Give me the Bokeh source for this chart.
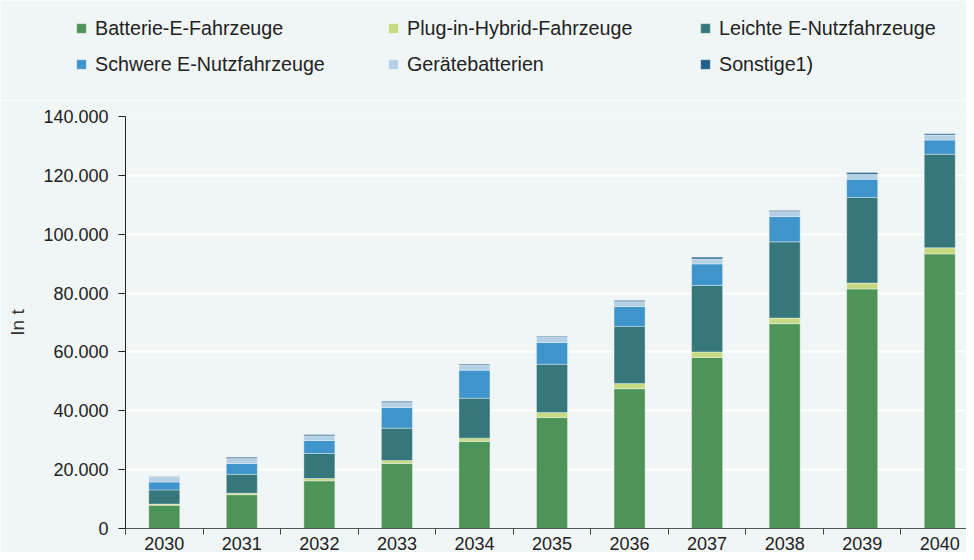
from bokeh.plotting import figure
from bokeh.layouts import column
from bokeh.models import Range1d, FixedTicker, Legend, LegendItem
from bokeh.embed import file_html
from bokeh.resources import INLINE

years = [2030, 2031, 2032, 2033, 2034, 2035, 2036, 2037, 2038, 2039, 2040]
batterie = [7900, 11500, 16200, 22100, 29600, 37700, 47500, 58100, 69600, 81400, 93300]
plugin = [400, 500, 800, 1000, 1100, 1700, 1800, 1900, 1900, 2000, 2100]
leichte = [4800, 6400, 8500, 11000, 13600, 16400, 19400, 22600, 25900, 29100, 31800]
schwere = [2700, 3700, 4400, 7000, 9500, 7400, 6700, 7300, 8600, 6200, 4800]
geraete = [1600, 1700, 1600, 1700, 1800, 1800, 1700, 1700, 1700, 1700, 1700]
sonstige = [200, 400, 400, 400, 300, 300, 400, 600, 400, 600, 400]

series_names = ["Batterie-E-Fahrzeuge", "Plug-in-Hybrid-Fahrzeuge", "Leichte E-Nutzfahrzeuge",
                "Schwere E-Nutzfahrzeuge", "Gerätebatterien", "Sonstige1)"]
colors = ["#4E9459", "#C6DA84", "#35777B", "#3F95CB", "#B4D0E6", "#1E5F8C"]

y_ticks = [0, 20000, 40000, 60000, 80000, 100000, 120000, 140000]
y_tick_labels = ["0", "20.000", "40.000", "60.000", "80.000", "100.000", "120.000", "140.000"]

FONT = "Liberation Sans"
BG = "#F0F5F5"
W = 966
LEG_H = 100
MAIN_H = 452

keys = ["b", "p", "l", "s", "g", "o"]
data = dict(x=years, b=batterie, p=plugin, l=leichte, s=schwere, g=geraete, o=sonstige)

# ---- main chart ----
p = figure(width=W, height=MAIN_H, output_backend="svg", toolbar_location=None,
           x_range=Range1d(2029.5, 2040.345), y_range=Range1d(0, 140000),
           min_border_left=125, min_border_right=0, min_border_top=16, min_border_bottom=23)
p.frame_align = False
p.background_fill_color = BG
p.border_fill_color = BG
p.outline_line_color = None

renderers = p.vbar_stack(keys, x="x", width=0.4, source=data, fill_color=colors,
                         line_color="white", line_alpha=0.35, line_width=1)

p.xgrid.grid_line_color = None
p.ygrid.grid_line_color = "white"
p.ygrid.grid_line_width = 2
p.ygrid.ticker = FixedTicker(ticks=y_ticks)

p.yaxis.ticker = FixedTicker(ticks=y_ticks)
p.yaxis.major_label_overrides = {t: l for t, l in zip(y_ticks, y_tick_labels)}
p.yaxis.major_tick_out = 7
p.yaxis.major_tick_in = 0
p.yaxis.minor_tick_line_color = None
p.yaxis.major_label_standoff = 10
p.yaxis.axis_line_color = "#222222"
p.yaxis.major_tick_line_color = "#222222"
p.yaxis.major_label_text_font = FONT
p.yaxis.major_label_text_font_size = "18px"
p.yaxis.major_label_text_color = "#222222"
p.yaxis.axis_label = "In t"
p.yaxis.axis_label_text_font = FONT
p.yaxis.axis_label_text_font_size = "19px"
p.yaxis.axis_label_text_font_style = "normal"
p.yaxis.axis_label_text_color = "#333333"
p.yaxis.axis_label_standoff = 12

bounds = [y - 0.5 for y in years]
p.xaxis.ticker = FixedTicker(ticks=years, minor_ticks=bounds)
p.xaxis.major_tick_out = 0
p.xaxis.major_tick_in = 0
p.xaxis.major_tick_line_color = None
p.xaxis.minor_tick_out = 6
p.xaxis.minor_tick_in = 0
p.xaxis.minor_tick_line_color = "#444444"
p.xaxis.axis_line_color = "#555555"
p.xaxis.major_label_standoff = 2
p.xaxis.major_label_text_font = FONT
p.xaxis.major_label_text_font_size = "18px"
p.xaxis.major_label_text_color = "#222222"

# ---- legend strip (its swatch bars lie outside the visible range) ----
lf = figure(width=W, height=LEG_H, output_backend="svg", toolbar_location=None,
            x_axis_type=None, y_axis_type=None, x_range=Range1d(0, 1), y_range=Range1d(0, 1),
            min_border=0)
lf.frame_align = False
lf.background_fill_color = BG
lf.border_fill_color = BG
lf.outline_line_color = None
lf.xgrid.grid_line_color = None
lf.ygrid.grid_line_color = None

series_values = [batterie, plugin, leichte, schwere, geraete, sonstige]
swatches = [lf.vbar(x=years[:1], top=vals[:1], width=0.4, fill_color=c,
                    line_color="white", line_alpha=0.35)
            for c, vals in zip(colors, series_values)]
items = [LegendItem(label=n, renderers=[r]) for n, r in zip(series_names, swatches)]
legend = Legend(items=items, location=(75, 18), orientation="horizontal", ncols=3,
                glyph_width=12, glyph_height=12, label_standoff=8, label_width=292,
                label_height=36, spacing=0, padding=0, margin=0,
                border_line_color=None, background_fill_alpha=0,
                label_text_font=FONT, label_text_font_size="19.7px", label_text_color="#222222")
lf.add_layout(legend, "center")

layout = column(lf, p, spacing=0)
open("out.html", "w").write(file_html(layout, INLINE))
